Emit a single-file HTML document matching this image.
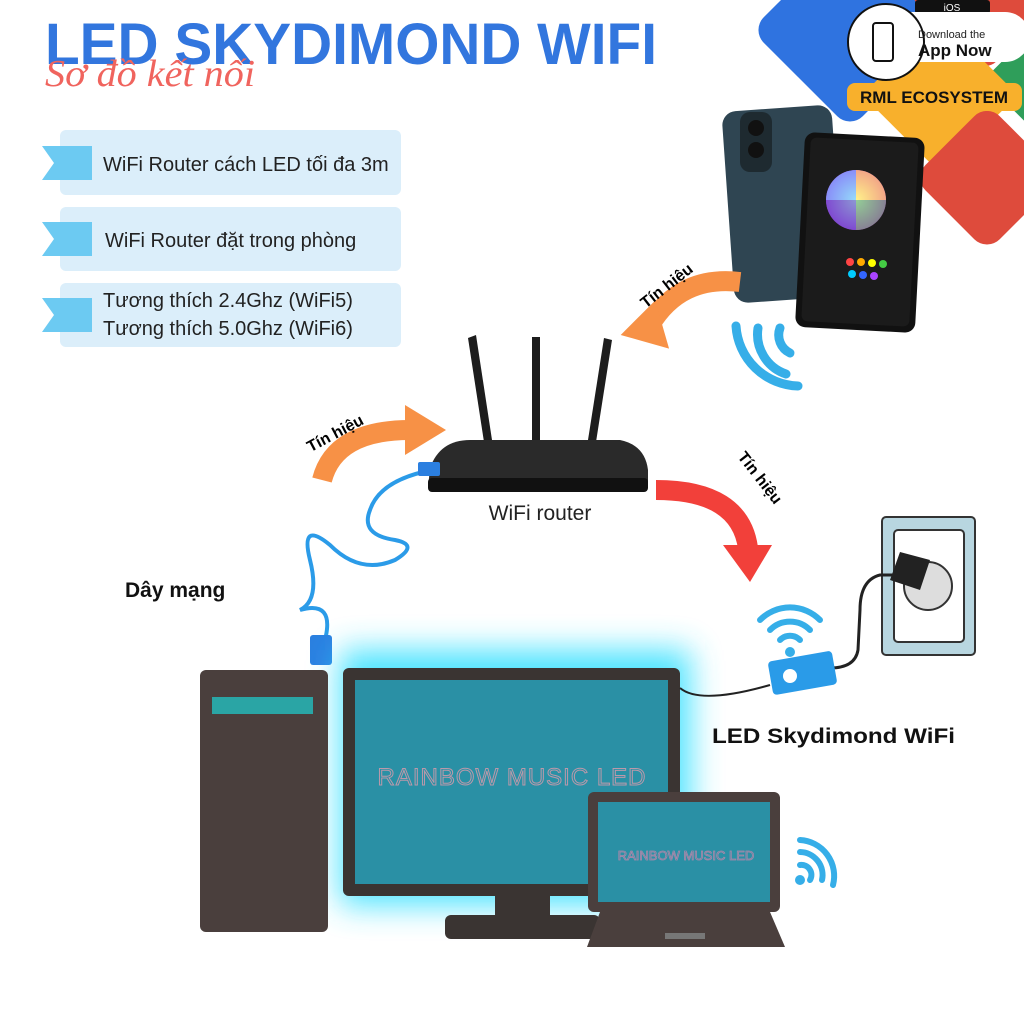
<!DOCTYPE html>
<html><head><meta charset="utf-8"><style>
body{margin:0;width:1024px;height:1024px;background:#fff;overflow:hidden;font-family:"Liberation Sans",sans-serif}
svg{position:absolute;left:0;top:0}
</style></head><body>
<svg width="1024" height="1024" viewBox="0 0 1024 1024" xmlns="http://www.w3.org/2000/svg">
<defs>
<filter id="glow" x="-30%" y="-30%" width="160%" height="160%"><feGaussianBlur stdDeviation="16"/></filter>
<radialGradient id="cw"><stop offset="0" stop-color="#fff"/><stop offset="1" stop-color="#fff" stop-opacity="0"/></radialGradient>
</defs>
<!-- top right shapes -->
<rect x="780" y="-40" width="140" height="140" rx="18" fill="#2f73e0" transform="rotate(45 850 30)"/>
<rect x="930" y="-60" width="110" height="110" rx="16" fill="#de4b3c" transform="rotate(45 985 -5)"/>
<rect x="1000" y="40" width="80" height="80" rx="14" fill="#2f9e5a" transform="rotate(45 1040 80)"/>
<rect x="885" y="40" width="110" height="110" rx="16" fill="#f8b02c" transform="rotate(45 940 95)"/>
<rect x="935" y="125" width="105" height="105" rx="18" fill="#de4b3c" transform="rotate(45 987 177)"/>
<rect x="915" y="0" width="75" height="14" rx="3" fill="#111"/>
<text x="952" y="11" font-size="10" fill="#fff" text-anchor="middle">iOS</text>
<path d="M890 12 H1005 a25 25 0 0 1 0 50 H890 a27 27 0 0 1 0 -50z" fill="#fff"/>
<circle cx="886" cy="42" r="38" fill="#fff" stroke="#111" stroke-width="2"/>
<rect x="873" y="23" width="20" height="38" rx="3" fill="none" stroke="#111" stroke-width="2"/>
<text x="918" y="38" font-size="11" fill="#222">Download the</text>
<text x="918" y="56" font-size="17" font-weight="bold" fill="#111">App Now</text>
<rect x="847" y="83" width="175" height="28" rx="8" fill="#f8b02c"/>
<text x="934" y="103" font-size="17" font-weight="bold" fill="#111" text-anchor="middle">RML ECOSYSTEM</text>
<!-- title -->
<text x="45" y="64" font-size="58" font-weight="bold" fill="#3276de" textLength="612" lengthAdjust="spacingAndGlyphs">LED SKYDIMOND WIFI</text>
<text x="45" y="86" font-size="38" font-style="italic" font-family="Liberation Serif" fill="#f0645e" textLength="210" lengthAdjust="spacingAndGlyphs">Sơ đồ kết nối</text>
<!-- info boxes -->
<g font-size="20" fill="#222">
<rect x="60" y="130" width="341" height="65" rx="6" fill="#dbeefa"/>
<path d="M42 146 H92 V180 H42 L54 163z" fill="#6ccaf2"/>
<text x="103" y="171">WiFi Router cách LED tối đa 3m</text>
<rect x="60" y="207" width="341" height="64" rx="6" fill="#dbeefa"/>
<path d="M42 222 H92 V256 H42 L54 239z" fill="#6ccaf2"/>
<text x="105" y="247">WiFi Router đặt trong phòng</text>
<rect x="60" y="283" width="341" height="64" rx="6" fill="#dbeefa"/>
<path d="M42 298 H92 V332 H42 L54 315z" fill="#6ccaf2"/>
<text x="103" y="307">Tương thích 2.4Ghz (WiFi5)</text>
<text x="103" y="335">Tương thích 5.0Ghz (WiFi6)</text>
</g>
<!-- phone -->
<rect x="728" y="108" width="110" height="192" rx="14" fill="#2f4552" transform="rotate(-4 783 204)"/>
<rect x="740" y="112" width="32" height="60" rx="10" fill="#1e2a30"/>
<circle cx="756" cy="128" r="8" fill="#111"/><circle cx="756" cy="150" r="8" fill="#111"/>
<rect x="800" y="135" width="120" height="195" rx="10" fill="#111" transform="rotate(3 860 232)"/>
<rect x="806" y="140" width="108" height="184" rx="6" fill="#1b1b1b" transform="rotate(3 860 232)"/>
<circle cx="856" cy="200" r="30" fill="#e040fb"/>
<circle cx="856" cy="200" r="30" fill="url(#cw)"/>
<path d="M856 170 a30 30 0 0 1 30 30 L856 200z" fill="#ffeb3b" opacity=".6"/>
<path d="M826 200 a30 30 0 0 1 30 -30 L856 200z" fill="#4fc3f7" opacity=".6"/>
<path d="M856 230 a30 30 0 0 1 -30 -30 L856 200z" fill="#3f51b5" opacity=".6"/>
<path d="M886 200 a30 30 0 0 1 -30 30 L856 200z" fill="#4caf50" opacity=".6"/>
<g fill="#f44"><circle cx="850" cy="262" r="4"/><circle cx="861" cy="262" r="4" fill="#fa0"/><circle cx="872" cy="263" r="4" fill="#ff0"/><circle cx="883" cy="264" r="4" fill="#4c4"/><circle cx="852" cy="274" r="4" fill="#0cf"/><circle cx="863" cy="275" r="4" fill="#36f"/><circle cx="874" cy="276" r="4" fill="#a4f"/></g>
<!-- wifi near phone -->
<g fill="none" stroke="#36aee8" stroke-width="9" stroke-linecap="round">
<path d="M780 328 a20 20 0 0 0 10 25"/><path d="M758 328 a42 42 0 0 0 28 46"/><path d="M736 326 a64 64 0 0 0 62 60"/>
</g>
<!-- arrows -->
<path d="M740 282 Q680 275 650 325" fill="none" stroke="#f79146" stroke-width="20"/>
<path d="M622 340 L650 300 L672 345z" fill="#f79146" transform="rotate(10 650 330)"/>
<text x="630" y="297" font-size="16" font-weight="bold" transform="rotate(-38 655 280)">Tín hiệu</text>
<path d="M322 480 Q335 430 410 430" fill="none" stroke="#f79146" stroke-width="20"/>
<path d="M405 405 L446 430 L405 455z" fill="#f79146"/>
<text x="300" y="440" font-size="16" font-weight="bold" transform="rotate(-28 330 425)">Tín hiệu</text>
<path d="M656 490 Q740 490 748 548" fill="none" stroke="#f2403a" stroke-width="20"/>
<path d="M723 545 L772 545 L750 582z" fill="#f2403a"/>
<text x="712" y="472" font-size="16" font-weight="bold" transform="rotate(52 740 490)">Tín hiệu</text>
<!-- router -->
<g fill="#1d1d1d">
<path d="M468 338 l8 -3 L492 440 l-8 2z"/>
<path d="M532 337 l8 0 L540 440 l-8 0z"/>
<path d="M604 338 l8 2 L596 442 l-8 -2z"/>
<path d="M430 468 Q440 440 470 440 H620 Q645 445 648 470 L648 488 H428z" fill="#2a2a2a"/>
<rect x="428" y="478" width="220" height="14" rx="4" fill="#111"/>
</g>
<text x="540" y="520" font-size="21" fill="#222" text-anchor="middle">WiFi router</text>
<!-- cable -->
<path d="M432 470 Q380 480 370 510 Q360 535 395 540 Q420 545 395 560 Q360 575 330 545 Q300 520 310 560 Q320 600 300 610 Q335 600 325 640" fill="none" stroke="#2b9be8" stroke-width="4"/>
<rect x="310" y="635" width="22" height="30" rx="3" fill="#2b7fe0"/>
<rect x="418" y="462" width="22" height="14" rx="2" fill="#2b7fe0"/>
<text x="125" y="597" font-size="21" font-weight="bold" fill="#111">Dây mạng</text>
<!-- glow -->
<rect x="340" y="650" width="350" height="255" fill="#35e0ff" filter="url(#glow)" opacity=".9"/>
<!-- tower -->
<rect x="200" y="670" width="128" height="262" rx="6" fill="#4a3f3d"/>
<rect x="212" y="697" width="101" height="17" fill="#2aa5a5"/>
<!-- monitor -->
<rect x="343" y="668" width="337" height="228" rx="6" fill="#3a3432"/>
<rect x="355" y="680" width="313" height="204" fill="#2a90a5"/>
<rect x="495" y="896" width="55" height="22" fill="#3a3432"/>
<rect x="445" y="915" width="155" height="24" rx="6" fill="#3a3432"/>
<text x="512" y="785" font-size="24" fill="none" stroke="#b9a" stroke-width="1" text-anchor="middle" letter-spacing="1">RAINBOW MUSIC LED</text>
<!-- laptop -->
<rect x="588" y="792" width="192" height="120" rx="6" fill="#4a3f3d"/>
<rect x="598" y="802" width="172" height="100" fill="#2a90a5"/>
<path d="M600 912 H770 L785 947 H587z" fill="#4a3f3d"/>
<rect x="665" y="933" width="40" height="6" fill="#777"/>
<text x="686" y="860" font-size="13" fill="none" stroke="#a8a" stroke-width=".8" text-anchor="middle">RAINBOW MUSIC LED</text>
<!-- wifi laptop -->
<g fill="none" stroke="#36aee8" stroke-width="6" stroke-linecap="round">
<path d="M800 865 a10 10 0 0 1 10 15"/><path d="M800 852 a23 23 0 0 1 22 28"/><path d="M800 840 a36 36 0 0 1 33 45"/>
</g>
<circle cx="800" cy="880" r="5" fill="#36aee8"/>
<!-- wifi controller -->
<g fill="none" stroke="#36aee8" stroke-width="6" stroke-linecap="round">
<path d="M780 640 a14 14 0 0 1 20 0"/><path d="M770 630 a28 28 0 0 1 40 0"/><path d="M760 620 a42 42 0 0 1 60 0"/>
</g>
<circle cx="790" cy="652" r="5" fill="#36aee8"/>
<!-- socket -->
<rect x="882" y="517" width="93" height="138" rx="4" fill="#b8d6e0" stroke="#333" stroke-width="2"/>
<rect x="894" y="530" width="70" height="112" rx="4" fill="#fff" stroke="#333" stroke-width="2"/>
<circle cx="928" cy="586" r="24" fill="#ddd" stroke="#333" stroke-width="2"/>
<path d="M910 560 L895 575 L880 575 Q860 580 860 610 L858 650 Q855 668 830 668" fill="none" stroke="#222" stroke-width="3"/>
<path d="M900 552 L930 560 L920 590 L890 580z" fill="#222"/>
<path d="M680 688 Q700 705 770 685" fill="none" stroke="#222" stroke-width="2"/>
<rect x="770" y="656" width="65" height="34" rx="4" fill="#2a9be8" transform="rotate(-10 802 673)"/>
<circle cx="790" cy="676" r="7" fill="#fff"/>
<text x="712" y="743" font-size="21" font-weight="bold" fill="#111" textLength="243" lengthAdjust="spacingAndGlyphs">LED Skydimond WiFi</text>
</svg>
</body></html>
